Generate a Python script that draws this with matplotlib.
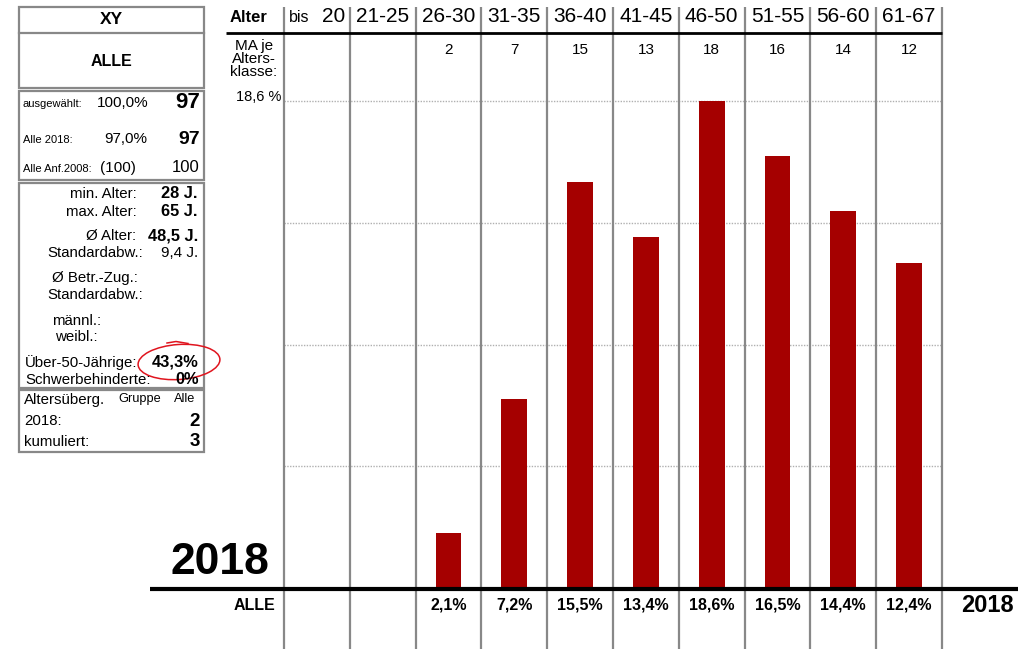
import matplotlib
matplotlib.use("Agg")
import matplotlib.pyplot as plt
from matplotlib.patches import Rectangle, Ellipse
from matplotlib.transforms import blended_transform_factory
import numpy as np

plt.rcParams['font.family'] = ['Liberation Sans', 'DejaVu Sans']

# ---------------- data ----------------
categories = ["bis 20", "21-25", "26-30", "31-35", "36-40", "41-45",
              "46-50", "51-55", "56-60", "61-67"]
counts = [None, None, 2, 7, 15, 13, 18, 16, 14, 12]
percents = [0.0, 0.0, 2.1, 7.2, 15.5, 13.4, 18.6, 16.5, 14.4, 12.4]
pct_labels = ["", "", "2,1%", "7,2%", "15,5%", "13,4%", "18,6%", "16,5%", "14,4%", "12,4%"]
year = "2018"
group = "ALLE"
title = "XY"
max_label = "18,6 %"

BAR_COLOR = "#a50000"
GRAY = "#888888"

W, H = 1018, 649
fig = plt.figure(figsize=(W / 100, H / 100), dpi=100)

# layout (pixels)
x0, x1 = 284, 942
y_base, y_top = 588, 101

ax = fig.add_axes([x0 / W, (H - y_base) / H, (x1 - x0) / W, (y_base - y_top) / H])
ymax = max(percents)
ax.set_xlim(-0.5, len(categories) - 0.5)
ax.set_ylim(0, ymax)
for s in ax.spines.values():
    s.set_visible(False)
ax.set_xticks([])
ax.set_yticks([])
ax.patch.set_alpha(0)
for f in (0.25, 0.5, 0.75, 1.0):
    ax.axhline(ymax * f, color="#b0b0b0", lw=1.0, ls=(0, (1, 1)), zorder=1, clip_on=False)
ax.bar(np.arange(len(categories)), percents, width=0.395, color=BAR_COLOR, zorder=3)

ov = fig.add_axes([0, 0, 1, 1], zorder=5)
ov.set_xlim(0, W)
ov.set_ylim(H, 0)
ov.axis("off")
ov.patch.set_alpha(0)

colw = (x1 - x0) / len(categories)
# vertical column lines
for k in range(len(categories) + 1):
    xv = x0 + colw * k
    ov.plot([xv, xv], [7, H], color=GRAY, lw=1.6, solid_capstyle="butt")
# header line
ov.plot([226, x1], [32.5, 32.5], color="black", lw=2.0, solid_capstyle="butt")
# baseline
ov.plot([150, W], [589, 589], color="black", lw=3.0, solid_capstyle="butt")

tr = blended_transform_factory(ax.transData, ov.transData)

# header texts
ov.text(249, 17, "Alter", ha="center", va="center", fontsize=12, fontweight="bold")
for i, c in enumerate(categories):
    if c.startswith("bis"):
        parts = c.split()
        ov.text(x0 + 5, 18, parts[0], ha="left", va="center", fontsize=11.5)
        ov.text(x0 + colw - 5, 17, parts[1], ha="right", va="center", fontsize=15)
    else:
        ax.text(i, 17, c, transform=tr, ha="center", va="center", fontsize=15)
    if counts[i] is not None:
        ax.text(i, 50, str(counts[i]), transform=tr, ha="center", va="center", fontsize=11)
    if pct_labels[i]:
        ax.text(i, 605, pct_labels[i], transform=tr, ha="center", va="center",
                fontsize=11.5, fontweight="bold")

for yy, t in [(46, "MA je"), (59, "Alters-"), (72, "klasse:")]:
    ov.text(254, yy, t, ha="center", va="center", fontsize=11)
ov.text(281, 97, max_label, ha="right", va="center", fontsize=10.5)

ov.text(220, 563, year, ha="center", va="center", fontsize=32, fontweight="bold")
ov.text(987, 605, year, ha="center", va="center", fontsize=17, fontweight="bold")
ov.text(275, 605, group, ha="right", va="center", fontsize=11.5, fontweight="bold")

# left panel boxes
def box(xa, ya, xb, yb):
    ov.add_patch(Rectangle((xa, ya), xb - xa, yb - ya, fill=False, ec=GRAY, lw=1.6))

box(19, 7, 204, 88)
ov.plot([19, 204], [32.5, 32.5], color=GRAY, lw=1.6)
box(19, 91, 204, 180)
box(19, 183, 204, 388)
box(19, 390, 204, 452)

ov.text(111, 19, title, ha="center", va="center", fontsize=12.5, fontweight="bold")
ov.text(111, 61, group, ha="center", va="center", fontsize=11.5, fontweight="bold")

ov.text(23, 104, "ausgewählt:", ha="left", va="center", fontsize=8)
ov.text(123, 103, "100,0%", ha="center", va="center", fontsize=11)
ov.text(200, 103, "97", ha="right", va="center", fontsize=16, fontweight="bold")
ov.text(23, 140, "Alle 2018:", ha="left", va="center", fontsize=8)
ov.text(147, 139, "97,0%", ha="right", va="center", fontsize=11)
ov.text(200, 139, "97", ha="right", va="center", fontsize=14, fontweight="bold")
ov.text(23, 169, "Alle Anf.2008:", ha="left", va="center", fontsize=8)
ov.text(118, 168, "(100)", ha="center", va="center", fontsize=11)
ov.text(200, 168, "100", ha="right", va="center", fontsize=12)

rows = [
    (194, "min. Alter:", 137, "28 J.", True),
    (212, "max. Alter:", 137, "65 J.", True),
    (236, "Ø Alter:", 136, "48,5 J.", True),
    (253, "Standardabw.:", 143, "9,4 J.", False),
    (278, "Ø Betr.-Zug.:", 138, "", False),
    (295, "Standardabw.:", 143, "", False),
    (321, "männl.:", 101, "", False),
    (337, "weibl.:", 98, "", False),
]
for yy, lab, xr, val, bold in rows:
    ov.text(xr, yy, lab, ha="right", va="center", fontsize=10.8)
    if val:
        ov.text(198, yy, val, ha="right", va="center", fontsize=11.8 if bold else 11,
                fontweight="bold" if bold else "normal")
ov.text(25, 363, "Über-50-Jährige:", ha="left", va="center", fontsize=10.8)
ov.text(199, 362, "43,3%", ha="right", va="center", fontsize=11.8, fontweight="bold")
ov.text(25, 380, "Schwerbehinderte:", ha="left", va="center", fontsize=10.8)
ov.text(199, 380, "0%", ha="right", va="center", fontsize=11.8, fontweight="bold")

ov.add_patch(Ellipse((179, 362), 82, 35, angle=-4, fill=False, ec="#e0141e", lw=1.1))
ov.plot([167, 176, 188], [343, 341.5, 343.5], color="#e0141e", lw=1.1)

ov.text(24, 400, "Altersüberg.", ha="left", va="center", fontsize=10.8)
ov.text(140, 399, "Gruppe", ha="center", va="center", fontsize=9.2)
ov.text(185, 399, "Alle", ha="center", va="center", fontsize=9.2)
ov.text(24, 421, "2018:", ha="left", va="center", fontsize=10.8)
ov.text(200, 422, "2", ha="right", va="center", fontsize=13.5, fontweight="bold")
ov.text(24, 442, "kumuliert:", ha="left", va="center", fontsize=10.8)
ov.text(200, 442, "3", ha="right", va="center", fontsize=13.5, fontweight="bold")

fig.savefig("out.png", dpi=100)
